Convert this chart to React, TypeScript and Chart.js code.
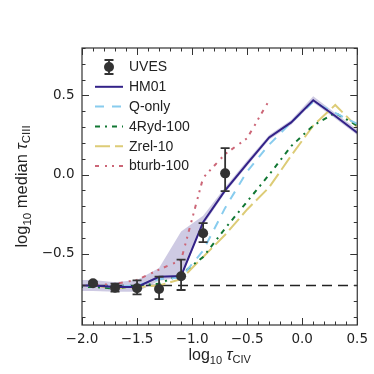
import React, { useEffect, useRef } from 'react';
import { Chart, registerables } from 'chart.js';

Chart.register(...registerables);

// ---------------- data ----------------
const modelX = [-2.1, -1.9, -1.7, -1.5, -1.3, -1.1, -0.9, -0.7, -0.5, -0.3, -0.1, 0.1, 0.3, 0.5];
const hm01 = [-0.70, -0.70, -0.71, -0.71, -0.645, -0.64, -0.30, -0.10, 0.07, 0.235, 0.33, 0.47, 0.37, 0.265];
const hm01Upper = [-0.665, -0.665, -0.68, -0.665, -0.59, -0.36, -0.26, -0.08, 0.09, 0.25, 0.345, 0.495, 0.39, 0.285];
const hm01Lower = [-0.735, -0.735, -0.74, -0.74, -0.67, -0.65, -0.32, -0.115, 0.055, 0.22, 0.315, 0.455, 0.355, 0.25];
const qOnly = [-0.70, -0.70, -0.71, -0.70, -0.66, -0.65, -0.48, -0.21, 0.02, 0.19, 0.33, 0.46, 0.39, 0.32];
const ryd4 = [-0.71, -0.71, -0.72, -0.70, -0.69, -0.63, -0.52, -0.34, -0.17, 0.0, 0.18, 0.31, 0.39, 0.31];
const zrel10 = [-0.70, -0.70, -0.72, -0.71, -0.70, -0.66, -0.52, -0.38, -0.22, -0.08, 0.12, 0.31, 0.44, 0.30];
const bturbX = [-2.1, -1.9, -1.7, -1.5, -1.3, -1.1, -0.9, -0.7, -0.5, -0.3];
const bturb100 = [-0.70, -0.70, -0.69, -0.665, -0.60, -0.54, -0.02, 0.13, 0.23, 0.47];

const uvesX = [-1.9, -1.7, -1.5, -1.3, -1.1, -0.9, -0.7];
const uvesY = [-0.686, -0.714, -0.718, -0.722, -0.642, -0.37, 0.008];
const uvesErrLow = [0.01, 0.025, 0.038, 0.064, 0.087, 0.057, 0.112];
const uvesErrHigh = [0.01, 0.025, 0.05, 0.077, 0.105, 0.063, 0.16];

const refLineX = [-2.0, 0.5];
const refLineY = [-0.70, -0.70];

const xMajorTicks = [-2.0, -1.5, -1.0, -0.5, 0.0, 0.5];
const yMajorTicks = [-0.5, 0.0, 0.5];

const seriesLabels = ['UVES', 'HM01', 'Q-only', '4Ryd-100', 'Zrel-10', 'bturb-100'];

// ---------------- styles ----------------
const C_UVES = '#333333';
const C_HM01 = '#332288';
const C_Q = '#88CCEE';
const C_4RYD = '#117733';
const C_ZREL = '#DDCC77';
const C_BTURB = '#CC6677';
const C_BAND = 'rgba(51,34,136,0.24)';
const C_TEXT = '#222222';
const C_FRAME = '#333333';

const DASH_Q = [9, 8];
const DASH_4RYD = [5, 5, 2, 5];
const DASH_ZREL = [15, 5];
const DASH_BTURB = [4, 6, 2, 5, 2, 5];

const TEXT_FONT = '"Liberation Sans", Arial, sans-serif';
const TICK_FONT = '"DejaVu Sans", sans-serif';

const pts = (xs: number[], ys: number[]) => xs.map((x, i) => ({ x, y: ys[i] }));

type Part = { t: string; size: number; dy: number; italic?: boolean };

function drawRich(ctx: CanvasRenderingContext2D, parts: Part[], cx: number, baseY: number) {
  let total = 0;
  const widths = parts.map((p) => {
    ctx.font = `${p.italic ? 'italic ' : ''}${p.size}px ${TEXT_FONT}`;
    const w = ctx.measureText(p.t).width;
    total += w;
    return w;
  });
  let x = cx - total / 2;
  ctx.textAlign = 'left';
  ctx.textBaseline = 'alphabetic';
  parts.forEach((p, i) => {
    ctx.font = `${p.italic ? 'italic ' : ''}${p.size}px ${TEXT_FONT}`;
    ctx.fillText(p.t, x, baseY + p.dy);
    x += widths[i];
  });
}

const decorPlugin = {
  id: 'decor',
  afterDatasetsDraw(chart: any) {
    const ctx: CanvasRenderingContext2D = chart.ctx;
    const xs = chart.scales.x;
    const ys = chart.scales.y;
    ctx.save();
    ctx.strokeStyle = C_UVES;
    ctx.lineWidth = 1.8;
    ctx.setLineDash([]);
    uvesX.forEach((xv, i) => {
      const px = xs.getPixelForValue(xv);
      const y1 = ys.getPixelForValue(uvesY[i] + uvesErrHigh[i]);
      const y2 = ys.getPixelForValue(uvesY[i] - uvesErrLow[i]);
      ctx.beginPath();
      ctx.moveTo(px, y1);
      ctx.lineTo(px, y2);
      ctx.moveTo(px - 4.5, y1);
      ctx.lineTo(px + 4.5, y1);
      ctx.moveTo(px - 4.5, y2);
      ctx.lineTo(px + 4.5, y2);
      ctx.stroke();
    });
    ctx.restore();
  },
  afterDraw(chart: any) {
    const ctx: CanvasRenderingContext2D = chart.ctx;
    const { left, right, top, bottom } = chart.chartArea;
    const xs = chart.scales.x;
    const ys = chart.scales.y;
    ctx.save();
    // frame
    ctx.strokeStyle = C_FRAME;
    ctx.lineWidth = 1.2;
    ctx.setLineDash([]);
    ctx.strokeRect(left, top, right - left, bottom - top);
    // ticks
    ctx.lineWidth = 1;
    ctx.beginPath();
    for (let k = -20; k <= 5; k++) {
      const v = k / 10;
      const px = Math.round(xs.getPixelForValue(v)) + 0.5;
      const L = k % 5 === 0 ? 7 : 3.5;
      ctx.moveTo(px, bottom);
      ctx.lineTo(px, bottom - L);
      ctx.moveTo(px, top);
      ctx.lineTo(px, top + L);
    }
    for (let k = -9; k <= 8; k++) {
      const v = k / 10;
      const py = Math.round(ys.getPixelForValue(v)) + 0.5;
      const L = k % 5 === 0 ? 7 : 3.5;
      ctx.moveTo(left, py);
      ctx.lineTo(left + L, py);
      ctx.moveTo(right, py);
      ctx.lineTo(right - L, py);
    }
    ctx.stroke();

    // legend
    const ds = chart.data.datasets;
    const lx0 = left + 13;
    const lx1 = left + 41;
    const tx = left + 47;
    const rowY = (i: number) => top + 19 + i * 19.8;
    for (let i = 0; i < seriesLabels.length; i++) {
      const y = rowY(i);
      const d = ds[i];
      if (i === 0) {
        const cx = (lx0 + lx1) / 2;
        ctx.strokeStyle = C_UVES;
        ctx.lineWidth = 1.8;
        ctx.setLineDash([]);
        ctx.beginPath();
        ctx.moveTo(cx, y - 7);
        ctx.lineTo(cx, y + 7);
        ctx.moveTo(cx - 4.5, y - 7);
        ctx.lineTo(cx + 4.5, y - 7);
        ctx.moveTo(cx - 4.5, y + 7);
        ctx.lineTo(cx + 4.5, y + 7);
        ctx.stroke();
        ctx.fillStyle = C_UVES;
        ctx.beginPath();
        ctx.arc(cx, y, 5, 0, Math.PI * 2);
        ctx.fill();
      } else {
        ctx.strokeStyle = d.borderColor;
        ctx.lineWidth = d.borderWidth;
        ctx.setLineDash(d.borderDash || []);
        ctx.beginPath();
        ctx.moveTo(lx0, y);
        ctx.lineTo(lx1, y);
        ctx.stroke();
        ctx.setLineDash([]);
      }
      ctx.fillStyle = C_TEXT;
      ctx.font = `14px ${TEXT_FONT}`;
      ctx.textAlign = 'left';
      ctx.textBaseline = 'middle';
      ctx.fillText(seriesLabels[i], tx, y + 0.5);
    }

    // axis titles
    ctx.fillStyle = C_TEXT;
    drawRich(
      ctx,
      [
        { t: 'log', size: 16, dy: 0 },
        { t: '10', size: 11, dy: 4 },
        { t: ' ', size: 16, dy: 0 },
        { t: 'τ', size: 16, dy: 0, italic: true },
        { t: 'CIV', size: 11, dy: 3 },
      ],
      (left + right) / 2,
      360
    );
    ctx.save();
    ctx.translate(27, (top + bottom) / 2);
    ctx.rotate(-Math.PI / 2);
    drawRich(
      ctx,
      [
        { t: 'log', size: 16.5, dy: 0 },
        { t: '10', size: 11.5, dy: 4 },
        { t: ' median ', size: 16.5, dy: 0 },
        { t: 'τ', size: 16.5, dy: 0, italic: true },
        { t: 'CIII', size: 11.5, dy: 3 },
      ],
      0,
      0
    );
    ctx.restore();
    ctx.restore();
  },
};

const fmt = (v: number) => {
  const r = Math.round(v * 10) / 10;
  if (Math.abs(r) < 1e-9) return '0.0';
  return (r < 0 ? '\u2212' : '') + Math.abs(r).toFixed(1);
};

export default function App() {
  const ref = useRef<HTMLCanvasElement | null>(null);
  useEffect(() => {
    if (!ref.current) return;
    const lineBase = { pointRadius: 0, tension: 0, fill: false, clip: 0, showLine: true };
    const chart = new Chart(ref.current, {
      type: 'scatter',
      data: {
        datasets: [
          {
            label: seriesLabels[0],
            data: pts(uvesX, uvesY),
            pointRadius: 5,
            pointHoverRadius: 5,
            backgroundColor: C_UVES,
            borderColor: C_UVES,
            borderWidth: 0,
            showLine: false,
          },
          { ...lineBase, label: seriesLabels[1], data: pts(modelX, hm01), borderColor: C_HM01, borderWidth: 2 },
          { ...lineBase, label: seriesLabels[2], data: pts(modelX, qOnly), borderColor: C_Q, borderWidth: 2, borderDash: DASH_Q },
          { ...lineBase, label: seriesLabels[3], data: pts(modelX, ryd4), borderColor: C_4RYD, borderWidth: 2, borderDash: DASH_4RYD },
          { ...lineBase, label: seriesLabels[4], data: pts(modelX, zrel10), borderColor: C_ZREL, borderWidth: 2, borderDash: DASH_ZREL },
          { ...lineBase, label: seriesLabels[5], data: pts(bturbX, bturb100), borderColor: C_BTURB, borderWidth: 2, borderDash: DASH_BTURB },
          {
            ...lineBase,
            label: 'HM01 upper',
            data: pts(modelX, hm01Upper),
            borderWidth: 0,
            borderColor: 'rgba(0,0,0,0)',
            backgroundColor: C_BAND,
            fill: '+1',
          },
          {
            ...lineBase,
            label: 'HM01 lower',
            data: pts(modelX, hm01Lower),
            borderWidth: 0,
            borderColor: 'rgba(0,0,0,0)',
            backgroundColor: C_BAND,
          },
          {
            ...lineBase,
            label: 'ref',
            data: pts(refLineX, refLineY),
            borderColor: '#222222',
            borderWidth: 1.5,
            borderDash: [10, 6],
          },
        ],
      },
      options: {
        animation: false,
        responsive: false,
        devicePixelRatio: 1,
        events: [],
        layout: { padding: { left: 0, right: 15, top: 48, bottom: 0 } },
        plugins: { legend: { display: false }, tooltip: { enabled: false }, title: { display: false } },
        scales: {
          x: {
            type: 'linear',
            min: -2.0,
            max: 0.5,
            grid: { display: false, drawTicks: false, tickLength: 0 },
            border: { display: false },
            afterFit: (s: any) => {
              s.height = 49;
            },
            afterBuildTicks: (s: any) => {
              s.ticks = xMajorTicks.map((v) => ({ value: v }));
            },
            ticks: {
              padding: 6,
              autoSkip: false,
              maxRotation: 0,
              color: C_TEXT,
              font: { family: TICK_FONT, size: 13.5 },
              callback: (v: any) => fmt(Number(v)),
            },
          },
          y: {
            type: 'linear',
            min: -0.95,
            max: 0.8,
            grid: { display: false, drawTicks: false, tickLength: 0 },
            border: { display: false },
            afterFit: (s: any) => {
              s.width = 82;
            },
            afterBuildTicks: (s: any) => {
              s.ticks = yMajorTicks.map((v) => ({ value: v }));
            },
            ticks: {
              padding: 7.5,
              autoSkip: false,
              color: C_TEXT,
              font: { family: TICK_FONT, size: 13.5 },
              callback: (v: any) => fmt(Number(v)),
            },
          },
        },
      } as any,
      plugins: [decorPlugin as any],
    });
    return () => chart.destroy();
  }, []);

  return (
    <div style={{ position: 'absolute', left: 0, top: 0, width: 374, height: 374, background: '#fff' }}>
      <canvas ref={ref} width={374} height={374} style={{ display: 'block', width: 374, height: 374 }} />
    </div>
  );
}
